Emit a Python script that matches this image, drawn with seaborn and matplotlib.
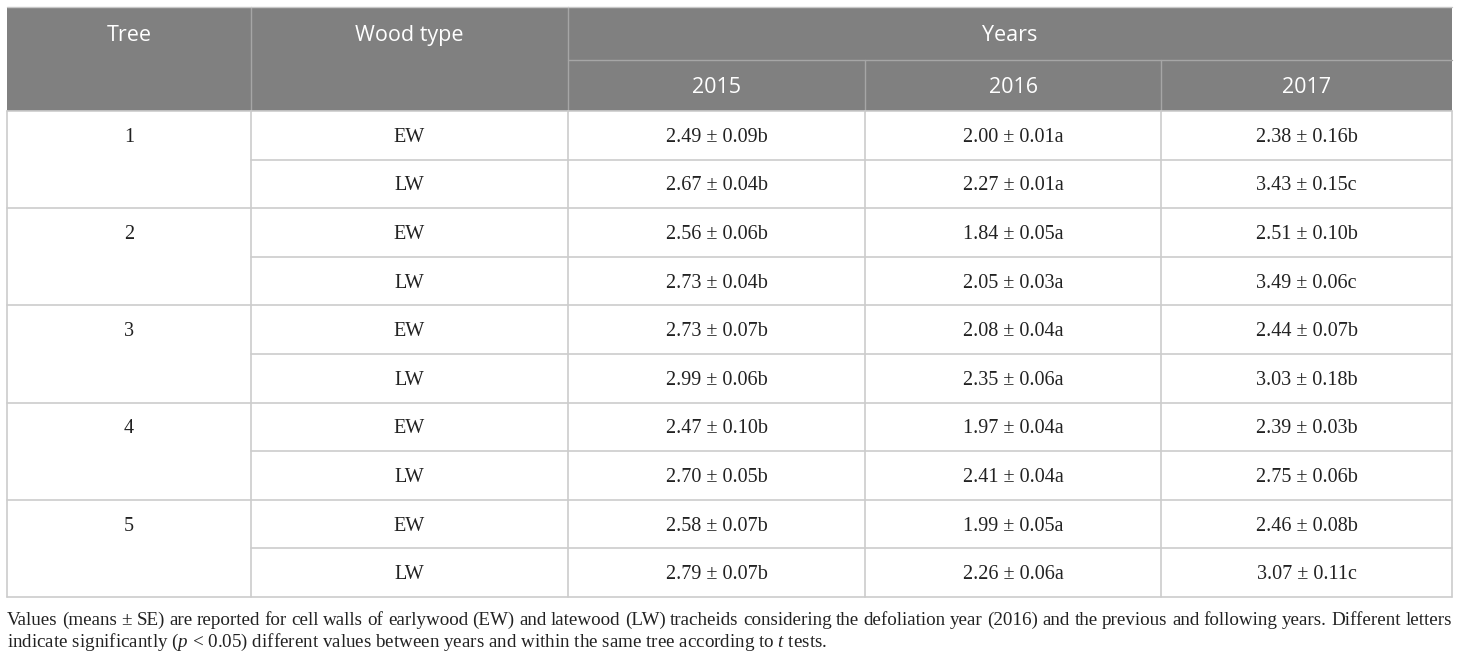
import matplotlib
matplotlib.use("Agg")
import matplotlib.pyplot as plt
from matplotlib.patches import Rectangle
import seaborn as sns

sns.set_theme(style="white")
plt.rcParams["mathtext.fontset"] = "custom"
plt.rcParams["mathtext.rm"] = "Liberation Serif"
plt.rcParams["mathtext.it"] = "Liberation Serif:italic"

# table data
trees = ["1", "2", "3", "4", "5"]
wood_types = ["EW", "LW"]
years = ["2015", "2016", "2017"]
mean_2015 = [2.49, 2.67, 2.56, 2.73, 2.73, 2.99, 2.47, 2.70, 2.58, 2.79]
se_2015 = [0.09, 0.04, 0.06, 0.04, 0.07, 0.06, 0.10, 0.05, 0.07, 0.07]
let_2015 = ["b", "b", "b", "b", "b", "b", "b", "b", "b", "b"]
mean_2016 = [2.00, 2.27, 1.84, 2.05, 2.08, 2.35, 1.97, 2.41, 1.99, 2.26]
se_2016 = [0.01, 0.01, 0.05, 0.03, 0.04, 0.06, 0.04, 0.04, 0.05, 0.06]
let_2016 = ["a", "a", "a", "a", "a", "a", "a", "a", "a", "a"]
mean_2017 = [2.38, 3.43, 2.51, 3.49, 2.44, 3.03, 2.39, 2.75, 2.46, 3.07]
se_2017 = [0.16, 0.15, 0.10, 0.06, 0.07, 0.18, 0.03, 0.06, 0.08, 0.11]
let_2017 = ["b", "c", "b", "c", "b", "b", "b", "b", "b", "c"]

footnote_1 = ("Values (means ± SE) are reported for cell walls of earlywood (EW) and latewood (LW) "
              "tracheids considering the defoliation year (2016) and the previous and following years. "
              "Different letters")
footnote_2 = "indicate significantly ($\\mathit{p}$ < 0.05) different values between years and within the same tree according to $\\mathit{t}$ tests."

# layout in pixels
col_x = [7, 251, 568, 865, 1161, 1452]
top, head_mid, head_bot = 7, 60, 111
row_h = 48.6
n_rows = len(trees) * len(wood_types)
bottom = head_bot + n_rows * row_h

header_color = "#808080"
grid_color = "#cccccc"
head_line = "#a6a6a6"
text_color = "#222222"
sans = ["Open Sans", "DejaVu Sans"]
serif = ["Liberation Serif", "DejaVu Serif"]
body_fs = 14.5
foot_fs = 13.7

fig = plt.figure(figsize=(14.6, 6.57), dpi=100)
ax = fig.add_axes([0, 0, 1, 1])
ax.set_xlim(0, 1460)
ax.set_ylim(657, 0)
ax.axis("off")

# header
ax.add_patch(Rectangle((col_x[0], top), col_x[-1] - col_x[0], head_bot - top,
                       facecolor=header_color, edgecolor="none"))
ax.plot([col_x[2], col_x[-1]], [head_mid, head_mid], color=head_line, lw=1)
for x in col_x[1:3]:
    ax.plot([x, x], [top, head_bot], color=head_line, lw=1)
for x in col_x[3:5]:
    ax.plot([x, x], [head_mid, head_bot], color=head_line, lw=1)
ax.plot([col_x[0], col_x[-1]], [top, top], color="#c8c8c8", lw=1)

hy1 = 41
hy2 = 93
ax.text((col_x[0] + col_x[1]) / 2, hy1, "Tree", color="white", fontsize=15.5,
        family=sans, ha="center", va="baseline")
ax.text((col_x[1] + col_x[2]) / 2, hy1, "Wood type", color="white", fontsize=15.5,
        family=sans, ha="center", va="baseline")
ax.text((col_x[2] + col_x[-1]) / 2, hy1, "Years", color="white", fontsize=15.5,
        family=sans, ha="center", va="baseline")
for j, yr in enumerate(years):
    ax.text((col_x[2 + j] + col_x[3 + j]) / 2, hy2, yr, color="white", fontsize=15.5,
            family=sans, ha="center", va="baseline")

# body grid
for i in range(n_rows + 1):
    y = head_bot + i * row_h
    x0 = col_x[0] if i % 2 == 0 else col_x[1]
    ax.plot([x0, col_x[-1]], [y, y], color=grid_color, lw=1.2)
for x in col_x:
    ax.plot([x, x], [head_bot, bottom], color=grid_color, lw=1.2)

means = [mean_2015, mean_2016, mean_2017]
ses = [se_2015, se_2016, se_2017]
lets = [let_2015, let_2016, let_2017]
for t, tree in enumerate(trees):
    for w, wt in enumerate(wood_types):
        r = t * len(wood_types) + w
        yb = head_bot + (r + 0.5) * row_h + 6.5
        if w == 0:
            ax.text((col_x[0] + col_x[1]) / 2, yb, tree, fontsize=body_fs, family=serif,
                    ha="center", va="baseline", color=text_color)
        ax.text((col_x[1] + col_x[2]) / 2, yb, wt, fontsize=body_fs, family=serif,
                ha="center", va="baseline", color=text_color)
        for j in range(len(years)):
            label = f"{means[j][r]:.2f} ± {ses[j][r]:.2f}{lets[j][r]}"
            ax.text((col_x[2 + j] + col_x[3 + j]) / 2, yb, label, fontsize=body_fs,
                    family=serif, ha="center", va="baseline", color=text_color)

# footnote, first line justified
fig.canvas.draw()
renderer = fig.canvas.get_renderer()
words = footnote_1.split(" ")
objs = [ax.text(0, 625, wd, fontsize=foot_fs, family=serif, ha="left", va="baseline",
                color=text_color) for wd in words]
widths = [o.get_window_extent(renderer).width for o in objs]
gap = (col_x[-1] - col_x[0] - sum(widths)) / (len(words) - 1)
x = col_x[0]
for o, wdt in zip(objs, widths):
    o.set_x(x)
    x += wdt + gap
ax.text(col_x[0], 647, footnote_2, fontsize=foot_fs, family=serif, ha="left",
        va="baseline", color=text_color)

fig.savefig("out.png", dpi=100)
